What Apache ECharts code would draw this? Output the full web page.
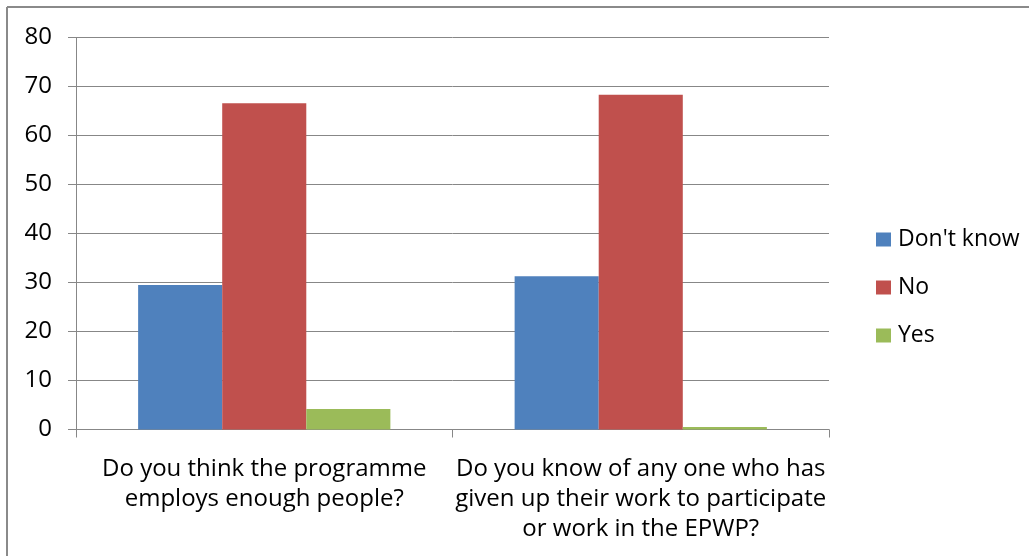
<!DOCTYPE html>
<html>
<head>
<meta charset="utf-8">
<script src="https://cdn.jsdelivr.net/npm/echarts@6/dist/echarts.min.js"></script>
<style>
html,body{margin:0;padding:0;background:#fff;}
#chart{width:1029px;height:556px;}
</style>
</head>
<body>
<div id="chart"></div>
<script>
const categories = [
  "Do you think the programme\nemploys enough people?",
  "Do you know of any one who has\ngiven up their work to participate\nor work in the EPWP?"
];
const seriesNames = ["Don't know", "No", "Yes"];
const dontKnow = [29.5, 31.3];
const no = [66.6, 68.3];
const yes = [4.2, 0.5];
const yTicks = { min: 0, max: 80, interval: 10 };

const FONT = 'Open Sans';
const chart = echarts.init(document.getElementById('chart'), null, { renderer: 'canvas' });
const colors = ['#4F81BD', '#C0504D', '#9BBB59'];
const values = [dontKnow, no, yes];

chart.setOption({
  animation: false,
  color: colors,
  textStyle: { fontFamily: FONT },
  graphic: [
    { type: 'line', shape: { x1: 7, y1: 7, x2: 1029, y2: 7 }, style: { stroke: '#8a8a8a', lineWidth: 2 } },
    { type: 'line', shape: { x1: 7, y1: 7, x2: 7, y2: 556 }, style: { stroke: '#8a8a8a', lineWidth: 2 } }
  ],
  legend: {
    orient: 'vertical',
    left: 871,
    top: 223,
    itemWidth: 15,
    itemHeight: 14,
    itemGap: 25,
    icon: 'rect',
    data: seriesNames,
    textStyle: { fontFamily: FONT, fontSize: 23, color: '#000', lineHeight: 23, padding: [0, 0, 0, 2] }
  },
  grid: { left: 76, right: 200, top: 37.5, bottom: 126.5, containLabel: false },
  xAxis: {
    type: 'category',
    data: categories,
    axisLine: { show: true, lineStyle: { color: '#878787', width: 1 } },
    axisTick: { show: true, alignWithLabel: false, length: 8, lineStyle: { color: '#878787' } },
    axisLabel: { interval: 0, margin: 25, fontFamily: FONT, fontSize: 24, color: '#000', lineHeight: 30, align: 'center' },
    splitLine: { show: false }
  },
  yAxis: {
    type: 'value',
    min: yTicks.min,
    max: yTicks.max,
    interval: yTicks.interval,
    axisLine: { show: true, lineStyle: { color: '#878787', width: 1 } },
    axisTick: { show: true, length: 8, lineStyle: { color: '#878787' } },
    axisLabel: { margin: 24, fontFamily: FONT, fontSize: 24, color: '#000' },
    splitLine: { show: true, lineStyle: { color: '#878787', width: 1 } }
  },
  series: seriesNames.map((name, i) => ({
    name: name,
    type: 'bar',
    data: values[i],
    barGap: '0%',
    barCategoryGap: '33%',
    itemStyle: { color: colors[i] }
  }))
});
</script>
</body>
</html>
